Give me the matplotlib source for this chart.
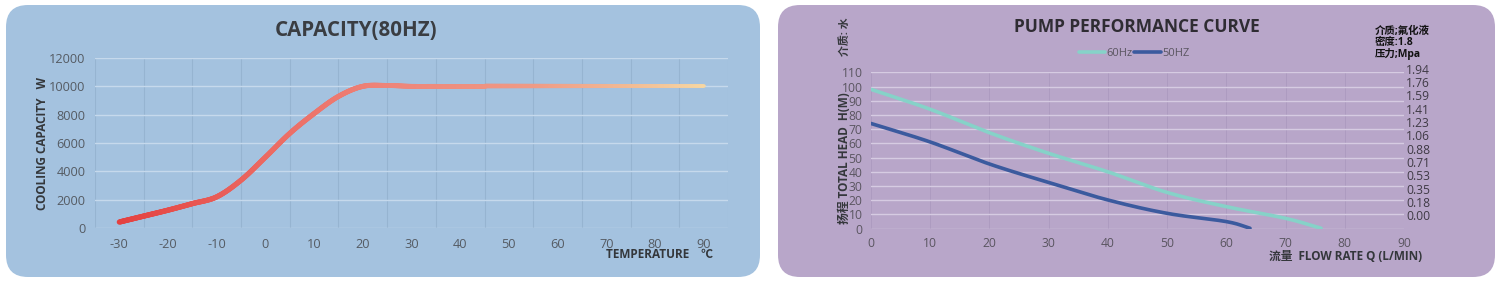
import numpy as np
import matplotlib
matplotlib.use("Agg")
import matplotlib.pyplot as plt
from matplotlib.patches import FancyBboxPatch
from matplotlib.transforms import IdentityTransform
from matplotlib.collections import LineCollection
from matplotlib.colors import to_rgb

plt.rcParams['font.family'] = ['Open Sans', 'Noto Sans CJK SC', 'DejaVu Sans']

# ---------------- data ----------------
temp = [-30, -25, -20, -15, -10, -5, 0, 5, 10, 15, 20, 25, 30, 35, 40, 45, 50, 55, 60, 65, 70, 75, 80, 85, 90]
capacity = [420, 840, 1260, 1720, 2200, 3380, 5000, 6680, 8080, 9290, 10000, 10060, 10000, 10000, 10000,
            10000, 10000, 10000, 10000, 10000, 10000, 10000, 10000, 10000, 10000]
temp_ticks = [-30, -20, -10, 0, 10, 20, 30, 40, 50, 60, 70, 80, 90]
cap_ticks = [0, 2000, 4000, 6000, 8000, 10000, 12000]

flow_60 = [0, 10, 20, 30, 40, 50, 60, 70, 76]
head_60 = [98, 84, 67.5, 53, 40, 25.5, 15.5, 7.3, 0.3]
flow_50 = [0, 10, 20, 30, 40, 50, 60, 64]
head_50 = [74, 61, 45.5, 32.5, 20.2, 10.8, 5, 0.3]
flow_ticks = [0, 10, 20, 30, 40, 50, 60, 70, 80, 90]
head_ticks = [0, 10, 20, 30, 40, 50, 60, 70, 80, 90, 100, 110]
pressure_labels = ["1.94", "1.76", "1.59", "1.41", "1.23", "1.06", "0.88", "0.71", "0.53", "0.35", "0.18", "0.00"]


def smooth(xs, ys, n=30):
    """Catmull-Rom rendering of a smoothed line through the given points."""
    P = np.column_stack([xs, ys]).astype(float)
    P = np.vstack([2 * P[0] - P[1], P, 2 * P[-1] - P[-2]])
    out = []
    t = np.linspace(0, 1, n, endpoint=False)[:, None]
    for i in range(1, len(P) - 2):
        p0, p1, p2, p3 = P[i - 1], P[i], P[i + 1], P[i + 2]
        seg = 0.5 * ((2 * p1) + (-p0 + p2) * t + (2 * p0 - 5 * p1 + 4 * p2 - p3) * t ** 2
                     + (-p0 + 3 * p1 - 3 * p2 + p3) * t ** 3)
        out.append(seg)
    out.append(P[-2][None, :])
    out = np.vstack(out)
    return out[:, 0], out[:, 1]


W, H = 1500, 286
fig = plt.figure(figsize=(W / 100, H / 100), dpi=100)
fig.patch.set_facecolor('white')


def panel(x0, y0top, x1, y1bot, color):
    p = FancyBboxPatch((x0, H - y1bot), x1 - x0, y1bot - y0top,
                       boxstyle="round,pad=0,rounding_size=22",
                       transform=IdentityTransform(), facecolor=color, edgecolor='none', zorder=-10)
    fig.patches.append(p)


panel(6, 5, 760, 277, '#a4c2df')
panel(778, 5, 1495, 277, '#b8a6c9')


def fx(px):
    return px / W


def fy(py):
    return 1 - py / H


# ---------------- left chart ----------------
axL = fig.add_axes([fx(95), fy(228), (728 - 95) / W, (228 - 58) / H])
axL.set_zorder(2)
axL.set_facecolor('none')
axL.set_xlim(-35, 95)
axL.set_ylim(0, 12000)
for s in axL.spines.values():
    s.set_visible(False)
for v in np.arange(-35, 96, 10):
    axL.axvline(v, color='#96b4d1', lw=0.8, zorder=1)
for v in cap_ticks:
    axL.axhline(v, color='#c6d9ec', lw=1.0, zorder=1)
axL.set_xticks(temp_ticks)
axL.set_xticklabels([str(t) for t in temp_ticks])
axL.set_yticks(cap_ticks)
axL.tick_params(length=0, labelsize=9.2, colors='#555b63', pad=7)

xs, ys = smooth(temp, capacity)
pts = np.column_stack([xs, ys]).reshape(-1, 1, 2)
segs = np.concatenate([pts[:-1], pts[1:]], axis=1)
stops_x = [-30, 0, 25, 55, 75, 90]
stops_c = [to_rgb(c) for c in ['#e4403f', '#eb6962', '#ee8479', '#ef9a85', '#f2bb94', '#f6d6a2']]
mid = 0.5 * (xs[:-1] + xs[1:])
cols = np.column_stack([np.interp(mid, stops_x, [c[k] for c in stops_c]) for k in range(3)])
widths = np.interp(mid, [-30, 20, 90], [3.8, 3.6, 2.6])
lc = LineCollection(segs, colors=cols, linewidths=widths, capstyle='round', joinstyle='round', zorder=3)
axL.add_collection(lc)

fig.text(fx(356), fy(31), "CAPACITY(80HZ)", ha='center', va='center', fontsize=14.8,
         fontweight='bold', color='#3a3d42')
fig.text(fx(43), fy(143), "COOLING CAPACITY   W", rotation=90, ha='center', va='center',
         fontsize=8.5, fontweight='bold', color='#34373b')
fig.text(fx(713), fy(255), "TEMPERATURE    ℃", ha='right', va='center',
         fontsize=8.5, fontweight='bold', color='#34373b')

# ---------------- right chart ----------------
axR = fig.add_axes([fx(871), fy(228.7), (1404 - 871) / W, (228.7 - 72.3) / H])
axR.set_zorder(2)
axR.set_facecolor('none')
axR.set_xlim(0, 90)
axR.set_ylim(0, 110)
for s in axR.spines.values():
    s.set_visible(False)
for v in flow_ticks:
    axR.axvline(v, color='#ad9bc0', lw=0.7, zorder=1)
for v in head_ticks:
    axR.axhline(v, color='#d6cbe2', lw=1.0, zorder=1)
axR.set_xticks(flow_ticks)
axR.set_yticks(head_ticks)
axR.tick_params(length=0, labelsize=8.7, colors='#5a5560', pad=6)

x6, y6 = smooth(flow_60, head_60)
x5, y5 = smooth(flow_50, head_50)
axR.plot(x6, y6, color='#86d2c8', lw=2.6, solid_capstyle='round', zorder=3, label='60Hz')
axR.plot(x5, y5, color='#3b5a9e', lw=2.6, solid_capstyle='round', zorder=4, label='50HZ')

leg = axR.legend(loc='center', bbox_to_anchor=(fx(1134), fy(53)), bbox_transform=fig.transFigure,
                 ncol=2, frameon=False, fontsize=8, handlelength=2.4, handletextpad=0.1,
                 columnspacing=0.15, borderpad=0)
for t in leg.get_texts():
    t.set_color('#5a5560')

# pressure labels on right side
p_top, p_bot = 70, 217
for i, lab in enumerate(pressure_labels):
    py = p_top + (p_bot - p_top) * i / (len(pressure_labels) - 1)
    fig.text(fx(1406), fy(py), lab, ha='left', va='center', fontsize=8.7, color='#3f3a45')

fig.text(fx(1137), fy(27), "PUMP PERFORMANCE CURVE", ha='center', va='center', fontsize=12.5,
         fontweight='bold', color='#2f2c33')
fig.text(fx(1375), fy(31), "介质;氟化液", ha='left', va='center', fontsize=7.5, fontweight='bold', color='#111111')
fig.text(fx(1375), fy(43), "密度:1.8", ha='left', va='center', fontsize=7.5, fontweight='bold', color='#111111')
fig.text(fx(1375), fy(54), "压力;Mpa", ha='left', va='center', fontsize=7.5, fontweight='bold', color='#111111')
fig.text(fx(845), fy(37), "介质: 水", rotation=90, ha='center', va='center', fontsize=7.8,
         fontweight='bold', color='#34373b')
fig.text(fx(845), fy(158), "扬程 TOTAL HEAD  H(M)", rotation=90, ha='center', va='center', fontsize=8.5,
         fontweight='bold', color='#34373b')
fig.text(fx(1422), fy(257), "流量  FLOW RATE Q (L/MIN)", ha='right', va='center', fontsize=8.5,
         fontweight='bold', color='#34373b')

fig.savefig("out.png", dpi=100)
